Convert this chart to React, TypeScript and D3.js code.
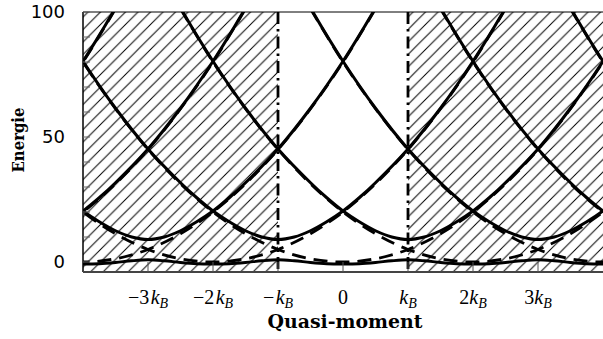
import React from "react";
import * as d3 from "d3";

// ---- data ----
const momentumDomain = [-4, 4]; // in units of k_B
const energyDomain = [-4, 100];
const kTicks = [-3, -2, -1, 0, 1, 2, 3];
const kTickLabels = ["−3k_B", "−2k_B", "−k_B", "0", "k_B", "2k_B", "3k_B"];
const energyLabelTicks = [0, 50, 100];
const energyMinorTicks = [0, 10, 20, 30, 40, 50, 60, 70, 80, 90, 100];
const zoneBoundaries = [-1, 1];

// free-electron parabola (dashed): offset from its centre (k_B) -> energy
const parabolaCentres = [-8, -6, -4, -2, 0, 2, 4, 6, 8];
const freeOffsets = [-4.5, -4, -3.5, -3, -2.5, -2, -1.5, -1, -0.5, 0, 0.5, 1, 1.5, 2, 2.5, 3, 3.5, 4, 4.5];
const freeEnergy = [101.3, 80, 61.3, 45, 31.3, 20, 11.3, 5, 1.3, 0, 1.3, 5, 11.3, 20, 31.3, 45, 61.3, 80, 101.3];

// upper band branch (solid) around each gap
const gapCentres = [-7, -5, -3, -1, 1, 3, 5, 7];
const upperOffsets = [-4.5, -4, -3.5, -3, -2.5, -2, -1.5, -1.25, -1, -0.75, -0.5, -0.25, 0, 0.25, 0.5, 0.75, 1, 1.25, 1.5, 2, 2.5, 3, 3.5, 4, 4.5];
const upperEnergy = [151, 125, 101.6, 80.3, 61.5, 45.2, 31.7, 25.7, 20.4, 16.1, 12.5, 10.0, 9.0, 10.0, 12.5, 16.1, 20.4, 25.7, 31.7, 45.2, 61.5, 80.3, 101.6, 125, 151];

// lowest band (solid), one period around each gap
const lowerOffsets = [-1, -0.75, -0.5, -0.25, 0, 0.25, 0.5, 0.75, 1];
const lowerEnergy = [-0.8, -0.7, -0.2, 0.5, 0.9, 0.5, -0.2, -0.7, -0.8];

const W = 603, H = 339;
const PL = 83, PR = 603, PT = 12, PB = 272;

export default function App() {
  const x = d3.scaleLinear().domain(momentumDomain).range([PL, PR]);
  const y = d3.scaleLinear().domain(energyDomain).range([PB, PT]);
  const line = d3
    .line<[number, number]>()
    .x((d) => x(d[0]))
    .y((d) => y(d[1]))
    .curve(d3.curveCatmullRom.alpha(0.5));

  const freePaths = parabolaCentres.map((c) =>
    line(freeOffsets.map((o, i) => [c + o, freeEnergy[i]] as [number, number]))
  );
  const upperPaths = gapCentres.map((c) =>
    line(upperOffsets.map((o, i) => [c + o, upperEnergy[i]] as [number, number]))
  );
  const lowPts: [number, number][] = [];
  gapCentres.forEach((c, gi) => {
    lowerOffsets.forEach((o, i) => {
      if (gi > 0 && i === 0) return;
      lowPts.push([c + o, lowerEnergy[i]]);
    });
  });
  const lowPath = line(lowPts);

  const xB1 = x(zoneBoundaries[0]);
  const xB2 = x(zoneBoundaries[1]);

  return (
    <svg width={W} height={H} style={{ position: "absolute", left: 0, top: 0, background: "#fff" }}>
      <defs>
        <pattern id="hatch" patternUnits="userSpaceOnUse" width={12.5} height={12.5}>
          <path d="M-1,13.5 L13.5,-1 M-3,3 L3,-3 M9.5,15.5 L15.5,9.5" stroke="#000" strokeWidth={1} />
        </pattern>
        <clipPath id="plot">
          <rect x={PL} y={PT} width={PR - PL} height={PB - PT} />
        </clipPath>
      </defs>
      <rect x={0} y={0} width={W} height={H} fill="#fff" />
      <g clipPath="url(#plot)">
        <rect x={PL} y={PT} width={xB1 - PL} height={PB - PT} fill="url(#hatch)" />
        <rect x={xB2} y={PT} width={PR - xB2} height={PB - PT} fill="url(#hatch)" />
        {freePaths.map((d, i) => (
          <path key={"f" + i} d={d || ""} fill="none" stroke="#000" strokeWidth={2.8} strokeDasharray="14,8" />
        ))}
        {upperPaths.map((d, i) => (
          <path key={"u" + i} d={d || ""} fill="none" stroke="#000" strokeWidth={3} />
        ))}
        <path d={lowPath || ""} fill="none" stroke="#000" strokeWidth={2.8} />
        {zoneBoundaries.map((b) => (
          <line key={"b" + b} x1={x(b)} x2={x(b)} y1={PT} y2={PB} stroke="#000" strokeWidth={2.8} strokeDasharray="12,5,2.5,5" />
        ))}
      </g>
      {/* frame */}
      <line x1={PL} x2={PR} y1={PT} y2={PT} stroke="#000" strokeWidth={1} />
      <line x1={PL} x2={PL} y1={PT} y2={PB} stroke="#000" strokeWidth={1.5} />
      <line x1={PL} x2={PR} y1={PB} y2={PB} stroke="#444" strokeWidth={2} />
      {/* ticks */}
      {kTicks.map((k) => (
        <line key={"kt" + k} x1={x(k)} x2={x(k)} y1={PB} y2={PB - 10} stroke="#555" strokeWidth={1} />
      ))}
      {energyMinorTicks.map((e) => (
        <line key={"et" + e} x1={PL} x2={PL + 7} y1={y(e)} y2={y(e)} stroke="#666" strokeWidth={1} />
      ))}
      {kTicks.map((k, i) => {
        const lab = kTickLabels[i];
        const parts = lab.split("k_B");
        const hasK = parts.length > 1;
        return (
          <text key={"kl" + k} x={x(k)} y={304} textAnchor="middle" fontFamily="'Liberation Serif', serif" fontSize={20}>
            <tspan>{parts[0]}</tspan>
            {hasK && <tspan fontStyle="italic" dx={parts[0].startsWith("−") ? 1.5 : 0}>k</tspan>}
            {hasK && (
              <tspan fontStyle="italic" fontSize={14} dy={4}>
                B
              </tspan>
            )}
          </text>
        );
      })}
      {energyLabelTicks.map((e) => (
        <text key={"el" + e} x={65} y={y(e)} dy="0.36em" textAnchor="end" fontFamily="'DejaVu Sans', sans-serif" fontSize={18}>
          {e}
        </text>
      ))}
      <text x={345} y={328} textAnchor="middle" fontFamily="'DejaVu Serif', serif" fontWeight="bold" fontSize={18.5} textLength={155} lengthAdjust="spacingAndGlyphs">
        Quasi-moment
      </text>
      <text transform="translate(24,140) rotate(-90)" textAnchor="middle" fontFamily="'DejaVu Serif', serif" fontWeight="bold" fontSize={16.5} textLength={65} lengthAdjust="spacingAndGlyphs">
        Energie
      </text>
    </svg>
  );
}
